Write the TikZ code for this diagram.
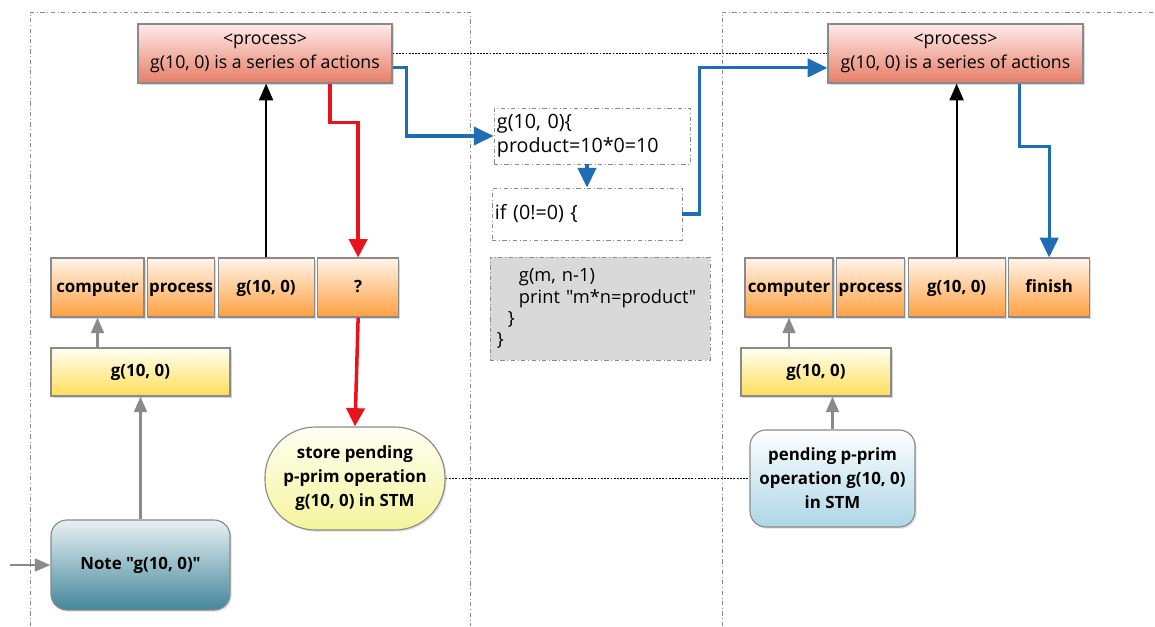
\documentclass[tikz,border=0pt]{standalone}
\usepackage{fontspec}
\setmainfont{Open Sans}[Ligatures=TeXOff]
\usetikzlibrary{arrows.meta,positioning,shadows}
\definecolor{flowblue}{HTML}{1F6DB5}
\definecolor{flowred}{HTML}{E8131B}
\definecolor{edgegray}{HTML}{8A8A8A}
\begin{document}
\begin{tikzpicture}[x=0.025cm,y=-0.025cm,
  lbl/.style={font=\fontsize{12.6}{17}\selectfont},
  procbox/.style={draw=edgegray,line width=0.8pt,minimum width=6.35cm,minimum height=1.475cm,
    top color=red!8,bottom color=red!45!brown!70!white,align=center,lbl,
    drop shadow={shadow xshift=1.2pt,shadow yshift=-1.2pt,opacity=0.3}},
  cell/.style={draw=edgegray,line width=0.8pt,minimum height=1.475cm,inner sep=0pt,
    text height=9pt,text depth=2.5pt,
    top color=orange!8,bottom color=orange!75,font=\fontsize{12}{14}\selectfont\bfseries,
    drop shadow={shadow xshift=1.2pt,shadow yshift=-1.2pt,opacity=0.3}},
  inbox/.style={draw=edgegray,line width=0.8pt,minimum height=1.2cm,
    top color=yellow!5,bottom color=yellow!60!orange!65,font=\fontsize{12}{14}\selectfont\bfseries,
    drop shadow={shadow xshift=1.5pt,shadow yshift=-1.5pt,opacity=0.35}},
  codebox/.style={draw=edgegray,dash dot,line width=0.6pt,align=left,inner xsep=0.075cm,
    font=\fontsize{14}{17}\selectfont},
  panel/.style={draw=edgegray,dash dot,line width=0.6pt},
  linkline/.style={densely dotted,line width=1.3pt},
  redarr/.style={draw=flowred,line width=2.5pt,-{Triangle[width=13pt,length=13pt]}},
  bluearr/.style={draw=flowblue,line width=2.2pt,-{Triangle[width=13pt,length=14pt]}},
  blackarr/.style={line width=1.4pt,-{Triangle[width=10pt,length=12pt]}},
  grayarr/.style={draw=edgegray,line width=1.8pt,-{Triangle[width=9pt,length=11pt]}}]
\useasboundingbox (0,0) rectangle (1155,626);

% panels
\draw[panel] (30,626) -- (30,12) -- (470,12) -- (470,626);
\draw[panel] (722,626) -- (722,12) -- (1155,12);

% top processes
\node[procbox] (procL) at (265,53.5) {<process>\\g(10, 0) is a series of actions};
\node[procbox,minimum width=6.375cm] (procR) at (955.5,53.5) {<process>\\g(10, 0) is a series of actions};

% code in the middle
\node[codebox,minimum height=1.4cm,text width=4.75cm] (codeA) at (592,136) {g(10, 0)\{\\product=10*0=10};
\node[codebox,minimum height=1.3cm,text width=4.6cm] (codeB) at (587,214) {if (0!=0) \{};
\node[codebox,fill=gray!30,minimum height=2.575cm,text width=5.15cm,inner xsep=0.175cm,
  font=\fontsize{13}{15}\selectfont] (codeC) at (600,308.5)
  {\hspace*{0.55cm}g(m, n-1)\\\hspace*{0.55cm}print "m*n=product"\\\hspace*{0.275cm}\}\\\}};

% left row
\node[cell,minimum width=2.325cm] (compL) at (97.5,287.5) {computer};
\node[cell,minimum width=1.675cm,right=0.06cm of compL] (prL) {process};
\node[cell,minimum width=2.4cm,right=0.06cm of prL] (gL) {g(10, 0)};
\node[cell,minimum width=2.025cm,right=0.06cm of gL] (qL) {?};

% right row
\node[cell,minimum width=2.2cm] (compR) at (789,287.5) {computer};
\node[cell,minimum width=1.7cm,right=0.06cm of compR] (prR) {process};
\node[cell,minimum width=2.425cm,right=0.06cm of prR] (gR) {g(10, 0)};
\node[cell,minimum width=2.025cm,right=0.06cm of gR] (finR) {finish};

% inputs
\node[inbox,minimum width=4.475cm] (inL) at (140.5,372) {g(10, 0)};
\node[inbox,minimum width=3.75cm] (inR) at (816,372) {g(10, 0)};

% memory
\node[draw=edgegray,line width=0.8pt,rounded corners=1.26cm,minimum width=4.5cm,minimum height=2.575cm,
  inner sep=0pt,top color=yellow!4,bottom color=olive!25!yellow!35,align=center,
  font=\fontsize{12}{17}\selectfont\bfseries,
  drop shadow={shadow xshift=1.2pt,shadow yshift=-1.2pt,opacity=0.25}] (storeL) at (355,478.5)
  {store pending\\p-prim operation\\g(10, 0) in STM};
\node[draw=edgegray,line width=0.8pt,rounded corners=0.4cm,minimum width=4.125cm,minimum height=2.425cm,
  inner sep=0pt,top color=white,bottom color={rgb,255:red,172;green,214;blue,230},align=center,
  font=\fontsize{12}{17}\selectfont\bfseries,
  drop shadow={shadow xshift=1.2pt,shadow yshift=-1.2pt,opacity=0.25}] (pendR) at (832.5,478.5)
  {pending p-prim\\operation g(10, 0)\\in STM};
\node[draw=edgegray,line width=0.8pt,rounded corners=0.4cm,minimum width=4.475cm,minimum height=2.25cm,
  top color={rgb,255:red,232;green,241;blue,244},bottom color={rgb,255:red,68;green,134;blue,154},
  font=\fontsize{12}{14}\selectfont\bfseries,
  drop shadow={shadow xshift=1.2pt,shadow yshift=-1.2pt,opacity=0.25}] (noteL) at (140.5,565)
  {Note "g(10, 0)"};
\coordinate (entry) at (10,565);

% links
\draw[linkline] (procL.east) -- (procR.west);
\draw[linkline] (storeL.east) -- (pendR.west);

\draw[grayarr] (entry) -- (noteL.west);
\draw[grayarr] (noteL.north) -- (inL.south);
\draw[grayarr] (inL.north -| compL.south) -- (compL.south);
\draw[grayarr] (pendR.north) -- (pendR.north |- inR.south);
\draw[grayarr] (inR.north -| compR.south) -- (compR.south);

\draw[blackarr] (gL.north) -- (gL.north |- procL.south);
\draw[blackarr] (gR.north) -- (gR.north |- procR.south);

\draw[redarr] ([xshift=1.625cm]procL.south) -- ++(0,39) -| (qL.north);
\draw[redarr] (qL.south) -- (storeL.north);

\draw[bluearr] ([yshift=-0.36cm]procL.east) -- ++(14,0) |- (codeA.west);
\draw[bluearr] (codeA.south -| codeB.north) -- (codeB.north);
\draw[bluearr] (codeB.east) -- ++(17,0) |- ([yshift=-0.36cm]procR.west);
\draw[bluearr] ([xshift=1.59cm]procR.south) -- ++(0,63) -| (finR.north);
\end{tikzpicture}
\end{document}
